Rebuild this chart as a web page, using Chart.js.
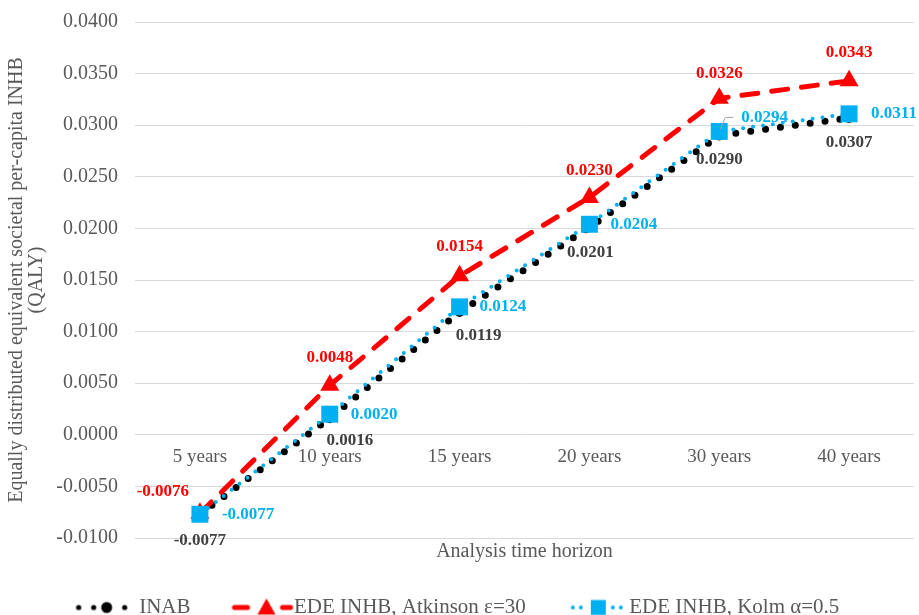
<!DOCTYPE html>
<html>
<head>
<meta charset="utf-8">
<script src="https://cdn.jsdelivr.net/npm/chart.js@4.4.1/dist/chart.umd.min.js"></script>
<style>
  html, body { margin: 0; padding: 0; background: #fff; overflow: hidden; }
  #wrap { width: 919px; height: 615px; }
</style>
</head>
<body>
<div id="wrap"><canvas id="chart"></canvas></div>
<script>
// data
const horizons = ['5 years', '10 years', '15 years', '20 years', '30 years', '40 years'];
const inab = [-0.0077, 0.0016, 0.0119, 0.0201, 0.0290, 0.0307];
const edeAtkinson = [-0.0076, 0.0048, 0.0154, 0.0230, 0.0326, 0.0343];
const edeKolm = [-0.0077, 0.0020, 0.0124, 0.0204, 0.0294, 0.0311];
const seriesNames = ['INAB', 'EDE INHB, Atkinson \u03b5=30', 'EDE INHB, Kolm \u03b1=0.5'];

const RED = '#FF0000';
const BLUE = '#00B0F0';
const DARK = '#000000';
const TEXT = '#595959';
const SERIF = '"Liberation Serif", "Times New Roman", serif';

// legend samples (line + marker) as little canvases
function sample(draw) {
  const c = document.createElement('canvas');
  c.width = 100; c.height = 24;
  const g = c.getContext('2d');
  draw(g);
  return c;
}
const legendImgs = [
  sample(g => {
    g.fillStyle = DARK;
    [[27, 2.6], [42, 2.6], [55, 5.5], [73, 2.6]].forEach(d => {
      g.beginPath(); g.arc(d[0], 12, d[1], 0, Math.PI * 2); g.fill();
    });
  }),
  sample(g => {
    g.strokeStyle = RED; g.fillStyle = RED; g.lineWidth = 5; g.lineCap = 'round';
    g.beginPath(); g.moveTo(28, 12); g.lineTo(41, 12); g.stroke();
    g.beginPath(); g.moveTo(76, 12); g.lineTo(84, 12); g.stroke();
    g.beginPath(); g.moveTo(60, 3); g.lineTo(69, 19); g.lineTo(51, 19); g.closePath(); g.fill();
  }),
  sample(g => {
    g.fillStyle = BLUE;
    [31, 39, 71, 79].forEach(x => { g.beginPath(); g.arc(x, 12, 2, 0, Math.PI * 2); g.fill(); });
    g.fillRect(49, 4.5, 15, 15);
  })
];

// value labels next to the points
const pointLabels = {
  id: 'pointLabels',
  afterDatasetsDraw(chart) {
    const ctx = chart.ctx;
    chart.data.datasets.forEach((ds, i) => {
      const lab = ds.valueLabels;
      if (!lab) return;
      const meta = chart.getDatasetMeta(i);
      ctx.save();
      ctx.font = 'bold 17px ' + SERIF;
      ctx.fillStyle = lab.color;
      ctx.textAlign = lab.align;
      ctx.textBaseline = 'middle';
      meta.data.forEach((pt, j) => {
        const off = lab.offsets[j];
        ctx.fillText(ds.data[j].toFixed(4), pt.x + off[0], pt.y + off[1]);
        if (lab.leader === j) {
          ctx.strokeStyle = '#A6A6A6';
          ctx.lineWidth = 1;
          ctx.beginPath();
          ctx.moveTo(pt.x + 1, pt.y - 2);
          ctx.lineTo(pt.x + 6, pt.y + off[1]);
          ctx.lineTo(pt.x + 14, pt.y + off[1]);
          ctx.stroke();
        }
      });
      ctx.restore();
    });
  }
};

const noSidePadding = (scale) => { scale.paddingLeft = 0; scale.paddingRight = 0; };

const data = {
  labels: horizons,
  datasets: [
    {
      label: seriesNames[0],
      data: inab,
      order: 3,
      borderColor: DARK,
      backgroundColor: DARK,
      borderWidth: 7,
      borderDash: [0, 15],
      borderCapStyle: 'round',
      pointStyle: 'circle',
      pointRadius: 5,
      pointBorderWidth: 0,
      valueLabels: {
        color: '#404040', align: 'center',
        offsets: [[0, 26], [20, 22], [19, 24], [1, 25], [0, 24], [0, 25]],
      },
    },
    {
      label: seriesNames[1],
      data: edeAtkinson,
      order: 2,
      borderColor: RED,
      backgroundColor: RED,
      borderWidth: 5,
      borderDash: [16, 14],
      borderCapStyle: 'round',
      pointStyle: 'triangle',
      pointRadius: 11,
      pointBorderWidth: 0,
      valueLabels: {
        color: RED, align: 'center',
        offsets: [[-37, -22], [0, -28], [0, -29], [0, -27], [0, -25], [0, -28]],
      },
    },
    {
      label: seriesNames[2],
      data: edeKolm,
      order: 1,
      borderColor: BLUE,
      backgroundColor: BLUE,
      borderWidth: 4,
      borderDash: [0, 10],
      borderCapStyle: 'round',
      pointStyle: 'rect',
      pointRadius: 12,
      pointBorderWidth: 0,
      valueLabels: {
        color: BLUE, align: 'left', leader: 4,
        offsets: [[22, 0], [21, 0], [20, 0], [21, 0], [22, -14], [22, 0]],
      },
    },
  ],
};

const config = {
  type: 'line',
  data: data,
  options: {
    responsive: true,
    maintainAspectRatio: false,
    animation: false,
    layout: {
      autoPadding: false,
      padding: { top: 22, right: 5, left: 0, bottom: -13 },
    },
    plugins: {
      tooltip: { enabled: false },
      legend: {
        position: 'bottom',
        labels: {
          usePointStyle: true,
          pointStyleWidth: 54,
          padding: 39,
          color: TEXT,
          font: { family: SERIF, size: 21 },
          sort: (a, b) => a.datasetIndex - b.datasetIndex,
          generateLabels(chart) {
            const items = Chart.defaults.plugins.legend.labels.generateLabels(chart);
            items.forEach(it => { it.pointStyle = legendImgs[it.datasetIndex]; });
            return items;
          },
        },
      },
    },
    scales: {
      x: {
        type: 'category',
        position: { y: 0 },
        offset: true,
        grid: { display: false, drawTicks: true, tickLength: 11 },
        border: { display: false },
        ticks: {
          color: TEXT,
          padding: 0,
          maxRotation: 0,
          font: { family: SERIF, size: 19 },
        },
        afterFit: noSidePadding,
      },
      x2: {
        type: 'category',
        position: 'bottom',
        grid: { display: false, drawTicks: false },
        border: { display: false },
        ticks: { display: false },
        title: {
          display: true,
          text: 'Analysis time horizon',
          color: TEXT,
          padding: { top: 2, bottom: -6 },
          font: { family: SERIF, size: 20 },
        },
        afterFit: noSidePadding,
      },
      y: {
        min: -0.01,
        max: 0.04,
        grid: { color: '#D9D9D9', drawTicks: true, tickLength: 17, tickColor: 'rgba(0,0,0,0)' },
        border: { display: false },
        ticks: {
          stepSize: 0.005,
          padding: 0,
          color: TEXT,
          font: { family: SERIF, size: 20 },
          callback: (v) => Number(v).toFixed(4),
        },
        title: {
          display: true,
          text: ['Equally distributed equivalent societal per-capita INHB', '(QALY)'],
          color: TEXT,
          padding: { top: 7, bottom: 0 },
          font: { family: SERIF, size: 20, lineHeight: 1.0 },
        },
        afterFit(scale) { scale.width = 135; },
      },
    },
  },
  plugins: [pointLabels],
};

const qalyChart = new Chart(document.getElementById('chart'), config);
</script>
</body>
</html>
